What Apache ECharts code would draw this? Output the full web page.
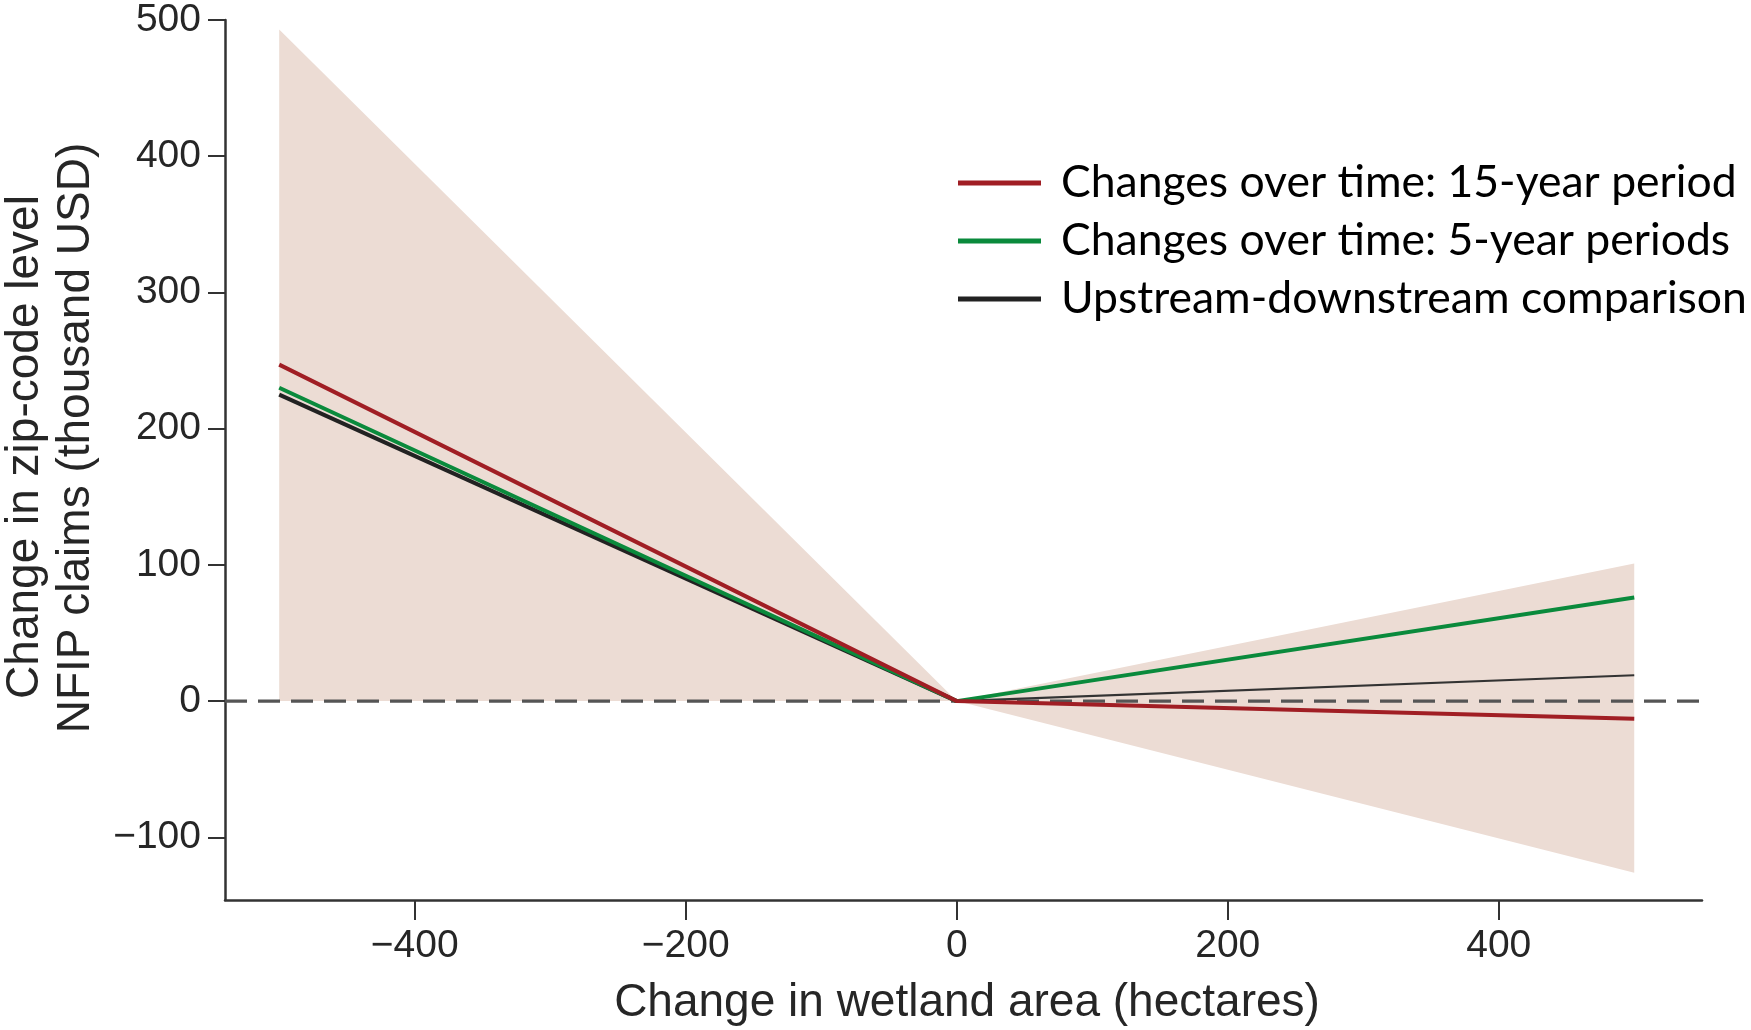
<!DOCTYPE html>
<html>
<head>
<meta charset="utf-8">
<script src="https://cdn.jsdelivr.net/npm/echarts@6/dist/echarts.min.js"></script>
<style>
html,body{margin:0;padding:0;background:#fff;}
#chart{width:1751px;height:1030px;}
</style>
</head>
<body>
<div id="chart"></div>
<script>
// ---- data ----
var xPoints = [-500, 0, 500];
var red15 = [247, 0, -13];
var green5 = [230, 0, 76];
var blackUD = [225, 0, 19];
var ribbonUpper = [493, 0, 101];
var ribbonLower = [0, 0, -126];
var xTicks = [-400, -200, 0, 200, 400];
var yTicks = [-100, 0, 100, 200, 300, 400, 500];
var xMin = -540, xMax = 550, yMin = -146, yMax = 500;
var seriesNames = ['Changes over time: 15-year period', 'Changes over time: 5-year periods', 'Upstream-downstream comparison'];

function pairs(ys, from, to) {
  var out = [];
  for (var i = from; i <= to; i++) out.push([xPoints[i], ys[i]]);
  return out;
}
var ribbonData = xPoints.map(function (x, i) { return [x, ribbonLower[i], ribbonUpper[i]]; });

function fmt(v) { return v < 0 ? '\u2212' + Math.abs(v) : String(v); }

var chart = echarts.init(document.getElementById('chart'));
var tickFont = {fontFamily: 'Liberation Sans, Arial, sans-serif', fontSize: 39, color: '#262626'};

var option = {
  animation: false,
  backgroundColor: '#ffffff',
  grid: {left: 225, right: 49, top: 20, bottom: 130, containLabel: false},
  xAxis: {
    type: 'value', min: xMin, max: xMax,
    splitLine: {show: false},
    axisLine: {onZero: false, lineStyle: {color: '#333', width: 2.5}},
    axisTick: {length: 20, lineStyle: {color: '#333', width: 2}, customValues: xTicks},
    axisLabel: Object.assign({margin: 27, formatter: fmt, customValues: xTicks}, tickFont)
  },
  yAxis: {
    type: 'value', min: yMin, max: yMax,
    splitLine: {show: false},
    axisLine: {onZero: false, lineStyle: {color: '#333', width: 2.5}},
    axisTick: {length: 17, lineStyle: {color: '#333', width: 2}, customValues: yTicks},
    axisLabel: Object.assign({margin: 24, formatter: fmt, customValues: yTicks}, tickFont)
  },
  legend: {
    orient: 'vertical', left: 953, top: 154,
    data: seriesNames,
    icon: 'rect', itemWidth: 83, itemHeight: 5, itemGap: 10,
    textStyle: {fontFamily: 'Lato, sans-serif', fontSize: 44.5, color: '#000', lineHeight: 48, padding: [0, 0, 0, 15]}
  },
  graphic: [
    {type: 'text', x: 25, y: 447, rotation: Math.PI / 2,
     style: {text: 'Change in zip-code level', font: '46px "Liberation Sans Narrow", "Liberation Sans", sans-serif', fill: '#262626', align: 'center', verticalAlign: 'middle'}},
    {type: 'text', x: 76, y: 438, rotation: Math.PI / 2,
     style: {text: 'NFIP claims (thousand USD)', font: '46px "Liberation Sans Narrow", "Liberation Sans", sans-serif', fill: '#262626', align: 'center', verticalAlign: 'middle'}},
    {type: 'text', x: 967, y: 1003,
     style: {text: 'Change in wetland area (hectares)', font: '46px "Liberation Sans Narrow", "Liberation Sans", sans-serif', fill: '#262626', align: 'center', verticalAlign: 'middle'}}
  ],
  series: [
    {
      type: 'custom', name: 'ribbon', z: 1, silent: true,
      data: ribbonData,
      renderItem: function (params, api) {
        if (params.dataIndex !== 0) return null;
        var pts = [];
        for (var i = 0; i < ribbonData.length; i++) pts.push(api.coord([ribbonData[i][0], ribbonData[i][2]]));
        for (var j = ribbonData.length - 1; j >= 0; j--) pts.push(api.coord([ribbonData[j][0], ribbonData[j][1]]));
        return {type: 'polygon', shape: {points: pts}, style: {fill: '#ecdcd4', stroke: null}};
      }
    },
    {
      type: 'line', name: 'zero', z: 2, silent: true, symbol: 'none',
      data: [[xMin, 0], [xMax, 0]],
      lineStyle: {color: '#555', width: 3.2, type: [22, 11]}
    },
    {
      type: 'line', name: seriesNames[2], z: 3, symbol: 'none',
      data: pairs(blackUD, 0, 1),
      itemStyle: {color: '#222'}, lineStyle: {color: '#222', width: 4}
    },
    {
      type: 'line', name: 'black-right', z: 3, symbol: 'none',
      data: pairs(blackUD, 1, 2),
      lineStyle: {color: '#333', width: 2.2}
    },
    {
      type: 'line', name: seriesNames[1], z: 4, symbol: 'none',
      data: pairs(green5, 0, 2),
      itemStyle: {color: '#0a8a3c'}, lineStyle: {color: '#0a8a3c', width: 4}
    },
    {
      type: 'line', name: seriesNames[0], z: 5, symbol: 'none',
      data: pairs(red15, 0, 2),
      itemStyle: {color: '#a01e24'}, lineStyle: {color: '#a01e24', width: 4}
    }
  ]
};
chart.setOption(option);
</script>
</body>
</html>
